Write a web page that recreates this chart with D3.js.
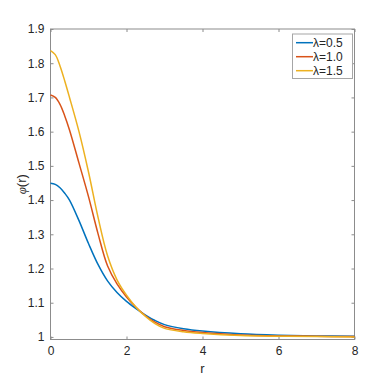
<!DOCTYPE html>
<meta charset="utf-8">
<style>
  body { margin: 0; background: #fff; }
  .tick text { font-family: "Liberation Sans", Arial, sans-serif; font-size: 12px; fill: #262626; }
  .lbl { font-family: "Liberation Sans", Arial, sans-serif; font-size: 13px; fill: #262626; }
</style>
<body>
<script src="https://d3js.org/d3.v7.min.js"></script>
<script>
// r sample points
var rVals = [0, 0.125, 0.25, 0.375, 0.5, 0.75, 1, 1.25, 1.5, 1.75, 2, 2.25, 2.5, 2.75, 3, 3.5, 4, 5, 6, 7, 8];
var phi05 = [1.449, 1.446, 1.436, 1.420, 1.400, 1.340, 1.273, 1.212, 1.164, 1.130, 1.104, 1.083, 1.064, 1.048, 1.036, 1.024, 1.017, 1.009, 1.005, 1.003, 1.002];
var phi10 = [1.707, 1.700, 1.680, 1.646, 1.605, 1.508, 1.410, 1.302, 1.208, 1.155, 1.117, 1.087, 1.062, 1.043, 1.030, 1.019, 1.013, 1.006, 1.003, 1.002, 1.001];
var phi15 = [1.837, 1.825, 1.792, 1.748, 1.700, 1.600, 1.482, 1.350, 1.238, 1.167, 1.122, 1.087, 1.060, 1.039, 1.025, 1.015, 1.010, 1.004, 1.002, 1.001, 1.000];
var seriesNames = ["\u03bb=0.5", "\u03bb=1.0", "\u03bb=1.5"];
var seriesColors = ["#0072BD", "#D95319", "#EDB120"];
var xTicks = [0, 2, 4, 6, 8];
var yTicks = [1, 1.1, 1.2, 1.3, 1.4, 1.5, 1.6, 1.7, 1.8, 1.9];

var W = 392, H = 382;
var margin = {top: 29, right: 37.5, bottom: 42.5, left: 50.5};
var width = W - margin.left - margin.right,
    height = H - margin.top - margin.bottom;

var svg = d3.select("body").append("svg")
    .attr("width", W)
    .attr("height", H);
var g = svg.append("g")
    .attr("transform", "translate(" + margin.left + "," + margin.top + ")");

var x = d3.scaleLinear().domain([0, 8]).range([0, width]);
var y = d3.scaleLinear().domain([0.9925, 1.9]).range([height, 0]);

var yFmt = function(d) { return d === 1 ? "1" : d3.format(".1f")(d); };
var axisCol = "#8c8c8c";

function styleAxis(sel, hideText) {
  sel.select(".domain").remove();
  sel.selectAll(".tick line").attr("stroke", axisCol);
  if (hideText) sel.selectAll(".tick text").remove();
}

// bottom / top
g.append("g").attr("transform", "translate(0," + height + ")")
  .call(d3.axisBottom(x).tickValues(xTicks).tickSize(-3).tickPadding(7))
  .call(styleAxis, false);
g.append("g")
  .call(d3.axisTop(x).tickValues(xTicks).tickSize(-3))
  .call(styleAxis, true);
// left / right
g.append("g")
  .call(d3.axisLeft(y).tickValues(yTicks).tickFormat(yFmt).tickSize(-3).tickPadding(6))
  .call(styleAxis, false);
g.append("g").attr("transform", "translate(" + width + ",0)")
  .call(d3.axisRight(y).tickValues(yTicks).tickSize(-3))
  .call(styleAxis, true);

// box
g.append("rect")
  .attr("width", width).attr("height", height)
  .attr("fill", "none").attr("stroke", axisCol).attr("stroke-width", 1);

// lines
var allSeries = [phi05, phi10, phi15];
var line = d3.line()
  .x(function(d, i) { return x(rVals[i]); })
  .y(function(d) { return y(d); })
  .curve(d3.curveCatmullRom.alpha(0.5));

g.selectAll(".series")
  .data(allSeries)
  .enter().append("path")
    .attr("class", "series")
    .attr("d", line)
    .attr("fill", "none")
    .attr("stroke", function(d, i) { return seriesColors[i]; })
    .attr("stroke-width", 1.5);

// axis labels
svg.append("text").attr("class", "lbl")
  .attr("x", margin.left + width / 2).attr("y", 373)
  .attr("text-anchor", "middle")
  .text("r");
svg.append("text").attr("class", "lbl")
  .attr("transform", "translate(26," + (margin.top + height / 2) + ") rotate(-90)")
  .attr("text-anchor", "middle")
  .html('<tspan font-family="Liberation Serif" font-style="italic">\u03c6</tspan>(r)');

// legend
var leg = svg.append("g").attr("transform", "translate(292.5,34)");
leg.append("rect")
  .attr("width", 60).attr("height", 44.5)
  .attr("fill", "#fff").attr("stroke", "#a6a6a6").attr("stroke-width", 1);
var item = leg.selectAll(".item")
  .data(seriesNames)
  .enter().append("g")
    .attr("transform", function(d, i) { return "translate(0," + (8.7 + i * 14) + ")"; });
item.append("line")
  .attr("x1", 3.5).attr("x2", 20.5)
  .attr("stroke", function(d, i) { return seriesColors[i]; })
  .attr("stroke-width", 1.5);
item.append("text")
  .attr("x", 20.5).attr("dy", "0.35em")
  .attr("font-family", "Liberation Sans, Arial, sans-serif")
  .attr("font-size", 12).attr("fill", "#262626")
  .text(function(d) { return d; });
</script>
</body>
